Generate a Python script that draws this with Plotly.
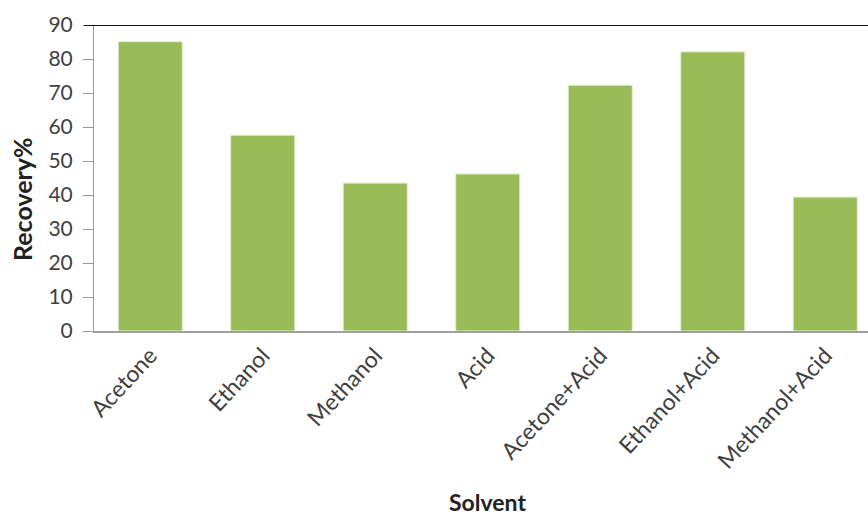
import plotly.graph_objects as go

categories = ["Acetone", "Ethanol", "Methanol", "Acid", "Acetone+Acid", "Ethanol+Acid", "Methanol+Acid"]
recovery = [85.1, 57.6, 43.5, 46.2, 72.3, 82.1, 39.4]
y_ticks = [0, 10, 20, 30, 40, 50, 60, 70, 80, 90]

W, H = 868, 515
plot_left, plot_top, plot_bottom = 94, 25, 331  # screen pixels
L, T, B, R = plot_left, plot_top, H - plot_bottom, 0
plot_w = W - L - R
plot_h = H - T - B
unit = 112.5
full_w = 7 * unit

fig = go.Figure(go.Bar(
    x=list(range(len(categories))), y=recovery,
    marker=dict(color="#9BBB59", line=dict(color="#E6EFD2", width=1)),
    width=0.57,
))

fig.update_layout(
    width=W, height=H,
    margin=dict(l=L, r=R, t=T, b=B),
    paper_bgcolor="white", plot_bgcolor="white",
    showlegend=False,
    font=dict(family="Lato, Open Sans, sans-serif", color="#404040"),
    xaxis=dict(
        range=[-0.5, -0.5 + plot_w / unit],
        tickmode="array", tickvals=list(range(len(categories))), ticktext=categories,
        tickangle=-47, tickfont=dict(size=23, color="#404040"),
        showline=True, linecolor="#A0A0A0", linewidth=2,
        ticks="", showgrid=False, zeroline=False,
    ),
    yaxis=dict(
        range=[0, 90], tickmode="array", tickvals=y_ticks,
        tickfont=dict(size=21, color="#404040"),
        showline=True, linecolor="#9A9A9A", linewidth=1,
        ticks="outside", ticklen=10, tickcolor="#9A9A9A",
        ticklabelstandoff=6,
        showgrid=False, zeroline=False,
    ),
    shapes=[dict(type="line", xref="paper", yref="y", x0=-10 / plot_w, x1=1, y0=90, y1=90,
                 line=dict(color="#111111", width=2))],
    annotations=[
        dict(text="<b>Solvent</b>", xref="paper", yref="paper",
             x=(full_w / 2) / plot_w, y=-(502 - plot_bottom) / plot_h,
             showarrow=False, font=dict(size=23, color="#222222"), yanchor="middle"),
        dict(text="<b>Recovery%</b>", xref="paper", yref="paper",
             x=-(plot_left - 22) / plot_w, y=(plot_bottom - 199) / plot_h, textangle=-90,
             showarrow=False, font=dict(size=25, color="#222222"), xanchor="center"),
    ],
)

fig.write_html(
    "out.html",
    config={"displayModeBar": False},
    post_script="document.body.style.margin='0';document.body.style.overflow='hidden';",
)
